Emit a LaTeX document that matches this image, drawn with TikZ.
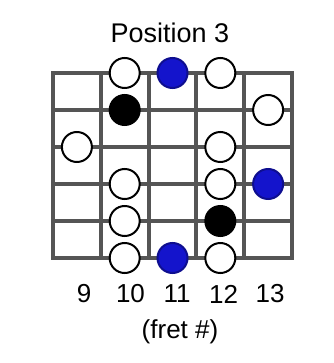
\documentclass[tikz,border=0pt]{standalone}
\usepackage{fontspec}
\setmainfont{Liberation Sans}
\usetikzlibrary{positioning}
\definecolor{fbGrid}{HTML}{555555}
\definecolor{fbBlue}{HTML}{1414CC}
\tikzset{
    fretline/.style={line width=4pt,fbGrid},
    note/.style={circle,draw=black,line width=2pt,fill=white,minimum size=30pt,inner sep=0pt},
    rootnote/.style={note,draw=fbBlue!70!black,fill=fbBlue},
    darknote/.style={note,fill=black},
    label/.style={font=\fontsize{26}{30}\selectfont,inner sep=0pt}
}

\begin{document}
\begin{tikzpicture}[x=1pt,y=-1pt]
\useasboundingbox[fill=white] (0,0) rectangle (333,363);

% title
\node[label,font=\fontsize{27}{30}\selectfont] (title) at (170,33) {Position 3};

% strings and frets
\foreach \r in {0,...,5}
  \draw[fretline] (51,{73+37*\r}) -- (294,{73+37*\r});
\foreach \c in {0,...,5}
  \draw[fretline] ({53+47.8*\c},73) -- ({53+47.8*\c},258);

% notes: column/string/style
\foreach \c/\r/\s [count=\i] in {
    1/0/note, 2/0/rootnote, 3/0/note,
    1/1/darknote, 4/1/note,
    0/2/note, 3/2/note,
    1/3/note, 3/3/note, 4/3/rootnote,
    1/4/note, 3/4/darknote,
    1/5/note, 2/5/rootnote, 3/5/note}
  \node[\s] (n\i) at ({53+47.8*(\c+0.5)},{73+37*\r}) {};

% fret numbers
\foreach \f [count=\c from 0] in {9,...,13}
  \node[label] (f\f) at ({84+46.5*\c},294) {\f};
\node[label] (fretcap) at (180,332) {(fret \#)};

\end{tikzpicture}
\end{document}
